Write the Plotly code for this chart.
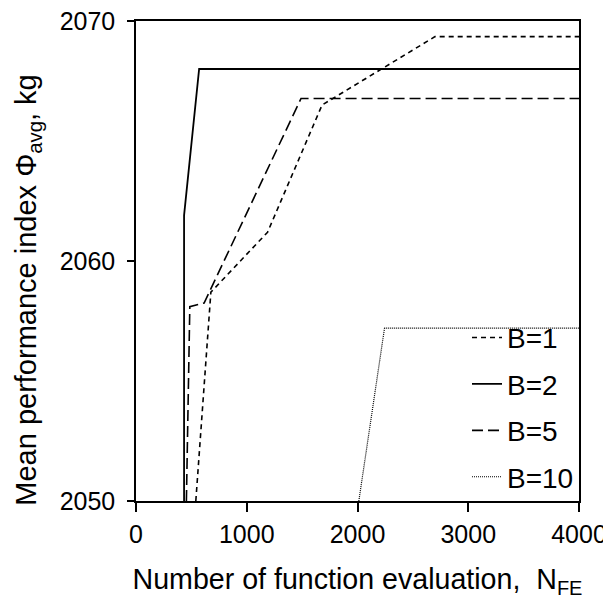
import plotly.graph_objects as go

# Data
series_names = ["B=1", "B=2", "B=5", "B=10"]
b1_x = [540, 676, 1188, 1680, 2700, 4000]
b1_y = [2050, 2058.7, 2061.2, 2066.5, 2069.35, 2069.35]
b2_x = [434, 434, 570, 4000]
b2_y = [2050, 2061.9, 2068.0, 2068.0]
b5_x = [455, 486, 615, 1490, 4000]
b5_y = [2050, 2058.1, 2058.25, 2066.77, 2066.77]
b10_x = [2012, 2244, 4000]
b10_y = [2050, 2057.2, 2057.2]

x_ticks = [0, 1000, 2000, 3000, 4000]
y_ticks = [2050, 2060, 2070]

x_title = "Number of function evaluation,  N<sub>FE</sub>"
y_title = "Mean performance index \u03a6<sub>avg</sub>, kg"

xs = [b1_x, b2_x, b5_x, b10_x]
ys = [b1_y, b2_y, b5_y, b10_y]
dashes = ["5px,4px", "solid", "11px,5px", "1px,1px"]
widths = [1.6, 1.8, 1.6, 1.2]

FONT = "Liberation Sans, Arial, sans-serif"

fig = go.Figure()
for i, name in enumerate(series_names):
    fig.add_trace(go.Scatter(
        x=xs[i], y=ys[i], mode="lines", name=name, legendgroup=name,
        line=dict(color="black", width=widths[i], dash=dashes[i]),
    ))

# page body adds an 8px offset, so the figure is slightly smaller
fig.update_layout(
    width=603, height=598,
    margin=dict(l=128, r=32, t=13, b=105),
    paper_bgcolor="white", plot_bgcolor="white",
    font=dict(family=FONT, color="black", size=24),
    showlegend=True,
    legend=dict(
        x=1.0, y=0.392, xanchor="right", yanchor="top",
        bgcolor="rgba(0,0,0,0)", borderwidth=0,
        font=dict(size=28, family=FONT, color="black"),
        tracegroupgap=7, itemwidth=30,
    ),
    annotations=[dict(
        text=y_title, textangle=-90, showarrow=False,
        xref="paper", yref="paper", x=-0.244, y=0.44,
        xanchor="center", yanchor="middle",
        font=dict(size=29, family=FONT, color="black"),
    )],
)
fig.update_xaxes(
    range=[0, 4000], tickvals=x_ticks, ticktext=[str(v) for v in x_ticks],
    showgrid=False, zeroline=False, automargin=False,
    showline=True, linecolor="black", linewidth=1.5, mirror=True,
    ticks="outside", ticklen=9, tickwidth=1.5, tickcolor="black",
    ticklabelstandoff=1, ticklabeloverflow="allow",
    tickfont=dict(size=25, family=FONT),
    title=dict(text=x_title, font=dict(size=28.6, family=FONT), standoff=22),
)
fig.update_yaxes(
    range=[2050, 2070], tickvals=y_ticks, ticktext=[str(v) for v in y_ticks],
    showgrid=False, zeroline=False, automargin=False,
    showline=True, linecolor="black", linewidth=1.5, mirror=True,
    ticks="outside", ticklen=7, tickwidth=1.5, tickcolor="black",
    ticklabelstandoff=7, ticklabeloverflow="allow",
    tickfont=dict(size=25, family=FONT),
)

fig.write_html("out.html")
